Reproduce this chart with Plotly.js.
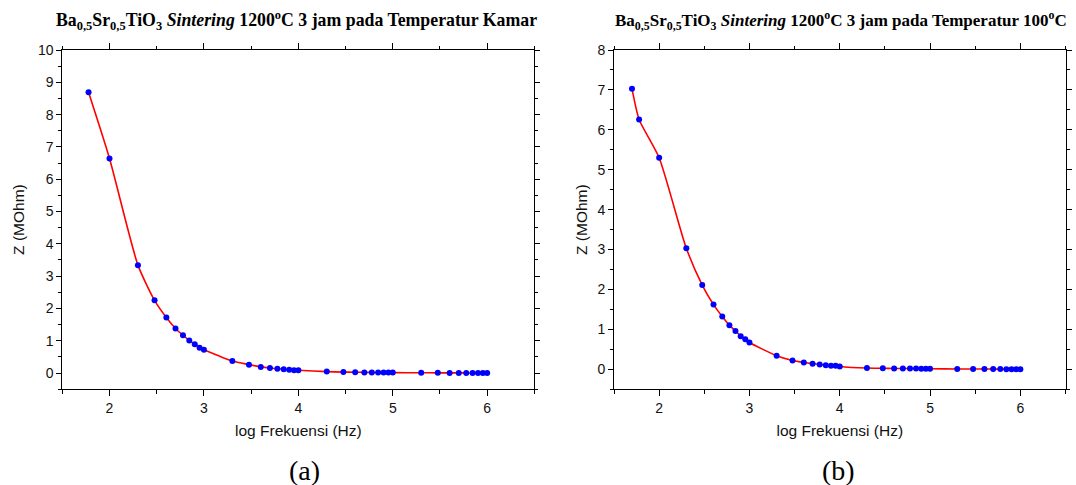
<!DOCTYPE html>
<html><head><meta charset="utf-8">
<script src="https://cdn.plot.ly/plotly-3.0.1.min.js"></script>
<style>html,body{margin:0;padding:0;background:#fff}#chart{width:1076px;height:485px}</style>
</head><body><div id="chart"></div>
<script>
// log frequency (Hz) for panel (a), room temperature
const logFreqA = [1.778, 2.000, 2.301, 2.477, 2.602, 2.699, 2.778, 2.845, 2.903, 2.954, 3.000,
  3.301, 3.477, 3.602, 3.699, 3.778, 3.845, 3.903, 3.954, 4.000,
  4.301, 4.477, 4.602, 4.699, 4.778, 4.845, 4.903, 4.954, 5.000,
  5.301, 5.477, 5.602, 5.699, 5.778, 5.845, 5.903, 5.954, 6.000];
// impedance Z (MOhm) for panel (a)
const zA = [8.69, 6.64, 3.34, 2.25, 1.72, 1.38, 1.17, 1.01, 0.89, 0.78, 0.72,
  0.37, 0.26, 0.19, 0.16, 0.13, 0.12, 0.10, 0.09, 0.085,
  0.045, 0.03, 0.025, 0.02, 0.02, 0.018, 0.016, 0.015, 0.014,
  0.008, 0.006, 0.005, 0.004, 0.004, 0.003, 0.003, 0.003, 0.002];
// log frequency (Hz) for panel (b), 100 °C
const logFreqB = [1.699, 1.778, 2.000, 2.301, 2.477, 2.602, 2.699, 2.778, 2.845, 2.903, 2.954, 3.000,
  3.301, 3.477, 3.602, 3.699, 3.778, 3.845, 3.903, 3.954, 4.000,
  4.301, 4.477, 4.602, 4.699, 4.778, 4.845, 4.903, 4.954, 5.000,
  5.301, 5.477, 5.602, 5.699, 5.778, 5.845, 5.903, 5.954, 6.000];
// impedance Z (MOhm) for panel (b)
const zB = [7.03, 6.26, 5.30, 3.03, 2.11, 1.62, 1.32, 1.10, 0.96, 0.83, 0.75, 0.67,
  0.34, 0.22, 0.17, 0.14, 0.12, 0.10, 0.09, 0.085, 0.07,
  0.03, 0.025, 0.02, 0.02, 0.018, 0.016, 0.015, 0.014, 0.013,
  0.008, 0.006, 0.005, 0.004, 0.004, 0.003, 0.003, 0.003, 0.002];

const titleA = 'Ba<sub>0,5</sub>Sr<sub>0,5</sub>TiO<sub>3</sub> <i>Sintering</i> 1200<sup>o</sup>C 3 jam pada Temperatur Kamar';
const titleB = 'Ba<sub>0,5</sub>Sr<sub>0,5</sub>TiO<sub>3</sub> <i>Sintering</i> 1200<sup>o</sup>C 3 jam pada Temperatur 100<sup>o</sup>C';
const xTitle = 'log Frekuensi (Hz)';
const yTitle = 'Z (MOhm)';
const panelLabels = ['(a)', '(b)'];

const sans = 'Arial, "Liberation Sans", sans-serif';
const serif = '"Times New Roman", "Liberation Serif", serif';
const W = 1076, H = 485;
const px = v => v / W, py = v => (H - v) / H;

function trace(x, y, xa, ya) {
  return {x, y, xaxis: xa, yaxis: ya, type: 'scatter', mode: 'lines+markers',
    line: {color: '#ff0000', width: 1.6, shape: 'spline', smoothing: 0.6},
    marker: {color: '#0000ff', size: 6, symbol: 'circle'},
    showlegend: false, hoverinfo: 'x+y'};
}

function bottomX(domain, anchor) {
  return {domain, anchor, range: [1.5, 6.5], tick0: 0, dtick: 1,
    ticks: 'outside', ticklen: 6, tickwidth: 1, tickcolor: '#000',
    showline: true, linecolor: '#000', linewidth: 1, mirror: 'ticks',
    showgrid: false, zeroline: false,
    tickfont: {family: sans, size: 14, color: '#111'},
    minor: {dtick: 0.5, tick0: 0, ticks: 'outside', ticklen: 3.5, tickwidth: 1, tickcolor: '#000', showgrid: false},
    title: {text: xTitle, font: {family: sans, size: 15.5, color: '#111'}, standoff: 10},
    fixedrange: true};
}
function leftY(domain, anchor, range, dtick, standoff) {
  return {domain, anchor, range, tick0: 0, dtick,
    ticks: 'outside', ticklen: 5, tickwidth: 1, tickcolor: '#000',
    showline: true, linecolor: '#000', linewidth: 1, mirror: 'ticks',
    showgrid: false, zeroline: false,
    tickfont: {family: sans, size: 14, color: '#111'},
    minor: {dtick: dtick / 2, tick0: 0, ticks: 'outside', ticklen: 3, tickwidth: 1, tickcolor: '#000', showgrid: false},
    title: {text: yTitle, font: {family: sans, size: 15.5, color: '#111'}, standoff},
    fixedrange: true};
}

const domXA = [px(62.3), px(534.4)];
const domXB = [px(614), px(1065.5)];
const domY = [py(389.2), py(50)];

const data = [
  trace(logFreqA, zA, 'x', 'y'), trace(logFreqB, zB, 'x2', 'y2')
];

const layout = {
  width: W, height: H,
  margin: {l: 0, r: 0, t: 0, b: 0, pad: 0},
  paper_bgcolor: '#fff', plot_bgcolor: '#fff',
  xaxis: bottomX(domXA, 'y'),
  yaxis: leftY(domY, 'x', [-0.5, 10], 1, 9),
  xaxis2: bottomX(domXB, 'y2'),
  yaxis2: leftY(domY, 'x2', [-0.5, 8], 1, 5),
  annotations: [
    {text: '<b>' + titleA + '</b>', xref: 'paper', yref: 'paper', x: px(297), y: py(21), xanchor: 'center', yanchor: 'middle',
     showarrow: false, font: {family: serif, size: 17.8, color: '#000'}},
    {text: '<b>' + titleB + '</b>', xref: 'paper', yref: 'paper', x: px(841), y: py(21), xanchor: 'center', yanchor: 'middle',
     showarrow: false, font: {family: serif, size: 17, color: '#000'}},
    {text: panelLabels[0], xref: 'paper', yref: 'paper', x: px(304), y: py(470), xanchor: 'center', yanchor: 'middle',
     showarrow: false, font: {family: serif, size: 28, color: '#000'}},
    {text: panelLabels[1], xref: 'paper', yref: 'paper', x: px(838), y: py(470), xanchor: 'center', yanchor: 'middle',
     showarrow: false, font: {family: serif, size: 28, color: '#000'}}
  ]
};

Plotly.newPlot('chart', data, layout, {displayModeBar: false, staticPlot: true});
</script>
</body></html>
